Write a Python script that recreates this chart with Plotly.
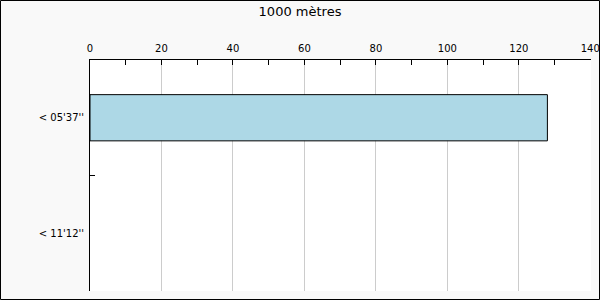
import plotly.graph_objects as go

categories = ["< 05'37''", "< 11'12''"]
values = [128, 0]
title_text = "1000 mètres"

W, H = 600, 300
L, R, T, B = 90, 9, 60, 9
pw, ph = W - L - R, H - T - B
xmax = 140.2

fig = go.Figure(go.Bar(
    y=categories, x=values, orientation="h", width=0.4,
    marker=dict(color="#add8e6",
                line=dict(color="black", width=[1 if v > 0 else 0 for v in values])),
))

fig.update_layout(
    width=W, height=H,
    margin=dict(l=L, r=R, t=T, b=B),
    paper_bgcolor="#f9f9f9", plot_bgcolor="white",
    font=dict(family="DejaVu Sans", size=10, color="black"),
    title=dict(text=title_text, x=0.5, xanchor="center", y=1 - 11 / H, yanchor="middle",
               font=dict(size=13, family="DejaVu Sans")),
    showlegend=False,
    xaxis=dict(side="top", range=[0, xmax], dtick=20, tick0=0,
               ticks="inside", ticklen=5, tickcolor="black",
               showline=True, linecolor="black", linewidth=1,
               showgrid=True, gridcolor="#cccccc", gridwidth=1, zeroline=False,
               ticklabelstandoff=3, ticklabeloverflow="allow", automargin=False,
               minor=dict(dtick=10, tick0=0, ticks="inside", ticklen=5, tickcolor="black", showgrid=False)),
    yaxis=dict(type="category", autorange="reversed", tickson="boundaries",
               ticks="inside", ticklen=5, tickcolor="black",
               showline=True, linecolor="black", linewidth=1,
               showgrid=False, zeroline=False, ticklabelstandoff=3),
    shapes=[dict(type="rect", xref="paper", yref="paper",
                 x0=(0.5 - L) / pw, x1=(W - 0.5 - L) / pw,
                 y0=(H - B - (H - 0.5)) / ph, y1=(H - B - 0.5) / ph,
                 line=dict(color="black", width=1), fillcolor="rgba(0,0,0,0)", layer="above")],
)

fig.write_html("out.html")
